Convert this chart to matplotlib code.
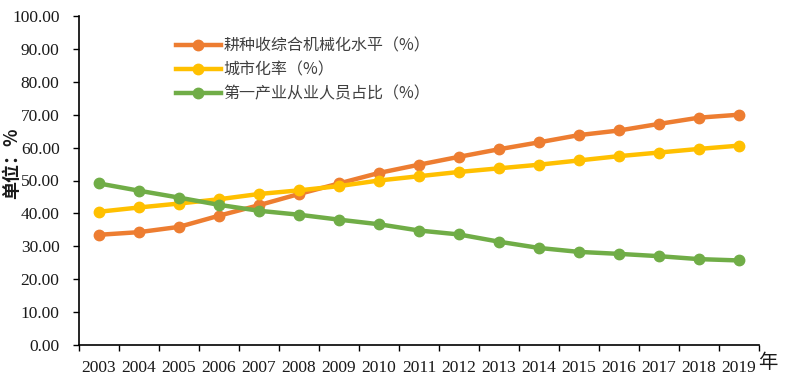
import matplotlib
matplotlib.use('Agg')
import matplotlib.pyplot as plt
import numpy as np

# 数据
years = [str(y) for y in range(2003, 2020)]
mech_level = [33.5, 34.3, 35.9, 39.3, 42.5, 45.9, 49.1, 52.3, 54.8, 57.2,
              59.5, 61.6, 63.8, 65.2, 67.2, 69.1, 70.0]
urban_rate = [40.5, 41.8, 43.0, 44.3, 45.9, 47.0, 48.3, 50.0, 51.3, 52.6,
              53.7, 54.8, 56.1, 57.4, 58.5, 59.6, 60.6]
primary_emp = [49.1, 46.9, 44.8, 42.6, 40.8, 39.6, 38.1, 36.7, 34.8, 33.6,
               31.4, 29.5, 28.3, 27.7, 27.0, 26.1, 25.7]
series_names = ['耕种收综合机械化水平（%）', '城市化率（%）', '第一产业从业人员占比（%）']
yticks = np.arange(0, 101, 10)

cjk = ['Noto Sans CJK SC', 'DejaVu Sans']
serif = ['Liberation Serif', 'DejaVu Serif']

fig = plt.figure(figsize=(7.85, 3.92), dpi=100)
ax = fig.add_axes([79 / 785, 47 / 392, 680 / 785, 329 / 392])

x = np.arange(len(years))
colors = ['#ED7D31', '#FFC000', '#70AD47']
for vals, c, name in zip([mech_level, urban_rate, primary_emp], colors, series_names):
    ax.plot(x, vals, '-o', color=c, lw=3.2, ms=7.5, label=name)

ax.set_ylim(0, 100)
ax.set_yticks(yticks)
ax.set_yticklabels([f'{v:.2f}' for v in yticks], family=serif, fontsize=12.5, color='#1a1a1a')
ax.set_xlim(-0.5, len(years) - 0.5)
ax.set_xticks(np.arange(-0.5, len(years)))
ax.set_xticklabels([])
ax.set_xticks(x, minor=True)
ax.set_xticklabels(years, minor=True, family=serif, fontsize=12.5, color='#1a1a1a')
ax.tick_params(axis='x', which='minor', length=0, pad=11)
ax.tick_params(axis='x', which='major', direction='out', length=4, width=1)
ax.tick_params(axis='y', direction='out', length=4, width=1, pad=10)

for s in ['top', 'right']:
    ax.spines[s].set_visible(False)
for s in ['left', 'bottom']:
    ax.spines[s].set_linewidth(1.2)

leg = ax.legend(loc='upper left', bbox_to_anchor=(0.133, 0.955), frameon=False,
                prop={'family': cjk, 'size': 11.5}, handlelength=2.8,
                handletextpad=0.2, labelspacing=0.45, borderaxespad=0)
for t in leg.get_texts():
    t.set_color('#404040')

fig.text(12 / 785, 1 - 163 / 392, '单位：%', rotation=90, family=cjk, fontsize=13,
         weight='bold', ha='center', va='center', color='#1a1a1a')
fig.text(768 / 785, 1 - 362 / 392, '年', family=cjk, fontsize=14,
         ha='center', va='center', color='#1a1a1a')

fig.savefig('out.png', dpi=100, facecolor='white')
